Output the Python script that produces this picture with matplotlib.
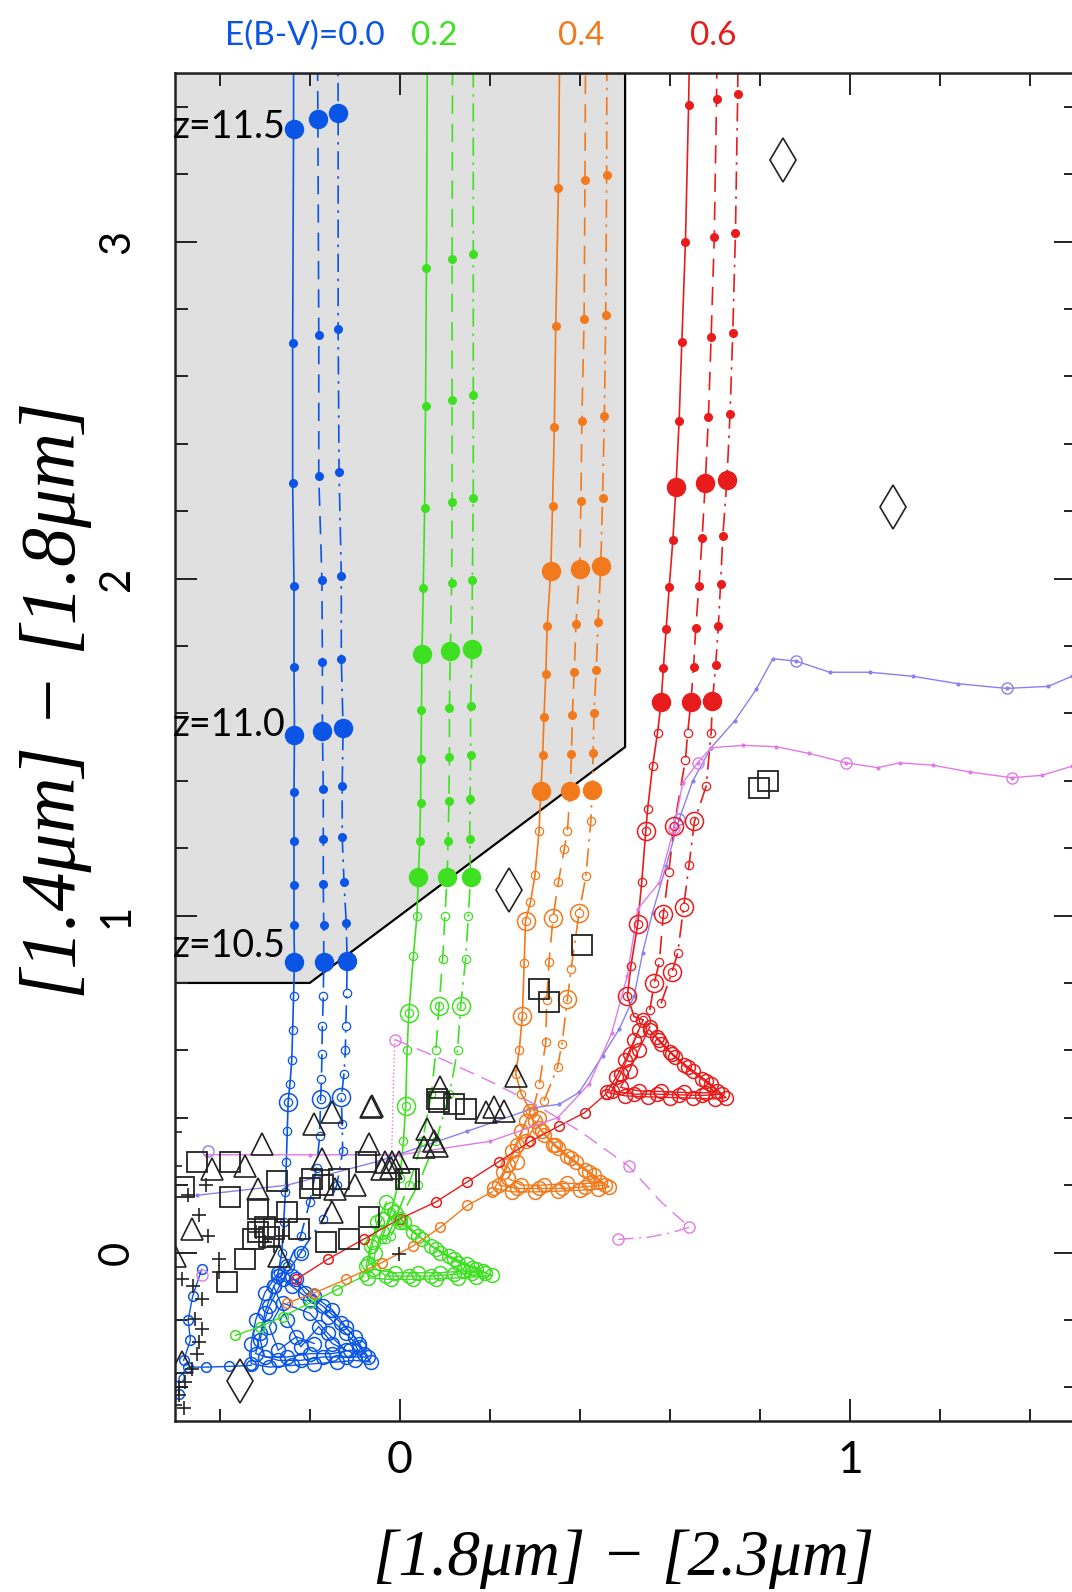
import numpy as np
import matplotlib.pyplot as plt
from matplotlib.ticker import MultipleLocator
from matplotlib.patches import Polygon

# colours of the four E(B-V) sets
C_BLUE = '#0a55e6'
C_GREEN = '#3fe022'
C_ORANGE = '#f27a1c'
C_RED = '#e81c1c'
C_PURPLE = '#8a80f0'
C_MAGENTA = '#e27ae6'

# ---- model tracks, part with filled dots (z=10.5 upwards, every 0.1 in z) ----
Z_MARK = [0, 5, 10]  # z = 10.5, 11.0, 11.5

BLUE_SOLID_X = [-0.234, -0.235, -0.235, -0.235, -0.235, -0.234, -0.235, -0.235, -0.238, -0.238, -0.236, -0.236]
BLUE_SOLID_Y = [0.862, 0.971, 1.090, 1.221, 1.368, 1.537, 1.738, 1.979, 2.283, 2.700, 3.335, 3.9]
BLUE_DASH_X = [-0.169, -0.169, -0.170, -0.170, -0.170, -0.172, -0.172, -0.173, -0.180, -0.180, -0.182, -0.184]
BLUE_DASH_Y = [0.862, 0.971, 1.093, 1.226, 1.376, 1.549, 1.753, 1.997, 2.303, 2.723, 3.363, 3.9]
BLUE_DDOT_X = [-0.117, -0.119, -0.124, -0.128, -0.128, -0.126, -0.130, -0.130, -0.135, -0.137, -0.137, -0.138]
BLUE_DDOT_Y = [0.866, 0.977, 1.100, 1.234, 1.384, 1.556, 1.762, 2.009, 2.317, 2.740, 3.383, 3.9]

GREEN_SOLID_X = [0.041, 0.044, 0.046, 0.047, 0.048, 0.049, 0.052, 0.055, 0.057, 0.059, 0.061]
GREEN_SOLID_Y = [1.113, 1.221, 1.335, 1.466, 1.609, 1.777, 1.972, 2.209, 2.512, 2.923, 3.58]
GREEN_DASH_X = [0.105, 0.107, 0.109, 0.110, 0.110, 0.112, 0.115, 0.116, 0.116, 0.116, 0.117]
GREEN_DASH_Y = [1.113, 1.221, 1.340, 1.471, 1.616, 1.784, 1.987, 2.226, 2.530, 2.947, 3.60]
GREEN_DDOT_X = [0.157, 0.155, 0.156, 0.157, 0.157, 0.160, 0.161, 0.163, 0.163, 0.163, 0.163]
GREEN_DDOT_Y = [1.113, 1.226, 1.345, 1.475, 1.621, 1.791, 1.997, 2.239, 2.545, 2.962, 3.62]

ORANGE_SOLID_X = [0.313, 0.317, 0.320, 0.324, 0.327, 0.335, 0.339, 0.343, 0.346, 0.352, 0.356]
ORANGE_SOLID_Y = [1.371, 1.475, 1.590, 1.717, 1.858, 2.021, 2.216, 2.451, 2.750, 3.159, 3.75]
ORANGE_DASH_X = [0.378, 0.381, 0.383, 0.387, 0.391, 0.399, 0.402, 0.404, 0.409, 0.411, 0.413]
ORANGE_DASH_Y = [1.371, 1.478, 1.595, 1.722, 1.865, 2.029, 2.229, 2.468, 2.769, 3.182, 3.78]
ORANGE_DDOT_X = [0.427, 0.429, 0.431, 0.436, 0.440, 0.446, 0.450, 0.454, 0.457, 0.459, 0.460]
ORANGE_DDOT_Y = [1.374, 1.481, 1.600, 1.730, 1.870, 2.036, 2.239, 2.481, 2.782, 3.197, 3.80]

RED_SOLID_X = [0.580, 0.585, 0.591, 0.598, 0.606, 0.613, 0.620, 0.626, 0.634, 0.641, 0.648]
RED_SOLID_Y = [1.633, 1.735, 1.849, 1.975, 2.113, 2.273, 2.469, 2.703, 2.999, 3.405, 4.00]
RED_DASH_X = [0.646, 0.652, 0.657, 0.664, 0.671, 0.678, 0.685, 0.691, 0.698, 0.703, 0.708]
RED_DASH_Y = [1.633, 1.737, 1.854, 1.979, 2.120, 2.283, 2.479, 2.716, 3.014, 3.424, 4.02]
RED_DDOT_X = [0.694, 0.701, 0.707, 0.712, 0.717, 0.726, 0.733, 0.739, 0.745, 0.750, 0.754]
RED_DDOT_Y = [1.636, 1.742, 1.858, 1.985, 2.127, 2.291, 2.489, 2.728, 3.026, 3.439, 4.04]

# ---- same tracks below z=10.5 (open circles) ----
BLUE_SOLID_LX = [-0.236, -0.238, -0.240, -0.244, -0.248, -0.250, -0.252, -0.254, -0.258, -0.262, -0.270]
BLUE_SOLID_LY = [0.760, 0.660, 0.570, 0.500, 0.446, 0.360, 0.270, 0.180, 0.090, 0.000, -0.060]
BLUE_DASH_LX = [-0.170, -0.172, -0.173, -0.174, -0.176, -0.178, -0.185, -0.200, -0.220, -0.250]
BLUE_DASH_LY = [0.760, 0.673, 0.590, 0.515, 0.456, 0.347, 0.250, 0.150, 0.050, -0.040]
BLUE_DDOT_LX = [-0.118, -0.120, -0.121, -0.124, -0.130, -0.128, -0.127, -0.140, -0.170, -0.220]
BLUE_DDOT_LY = [0.770, 0.673, 0.600, 0.530, 0.461, 0.380, 0.300, 0.200, 0.100, 0.000]

GREEN_SOLID_LX = [0.038, 0.030, 0.020, 0.016, 0.013, 0.008, 0.000, -0.020, -0.040]
GREEN_SOLID_LY = [1.000, 0.880, 0.712, 0.600, 0.436, 0.330, 0.220, 0.120, 0.040]
GREEN_DASH_LX = [0.100, 0.095, 0.087, 0.080, 0.070, 0.050, 0.020, -0.010, -0.030]
GREEN_DASH_LY = [1.000, 0.870, 0.732, 0.600, 0.470, 0.330, 0.200, 0.100, 0.040]
GREEN_DDOT_LX = [0.152, 0.146, 0.135, 0.128, 0.110, 0.080, 0.040, 0.000, -0.020]
GREEN_DDOT_LY = [1.000, 0.870, 0.732, 0.600, 0.470, 0.330, 0.200, 0.100, 0.050]

ORANGE_SOLID_LX = [0.309, 0.300, 0.290, 0.279, 0.276, 0.272, 0.265, 0.257, 0.270, 0.290]
ORANGE_SOLID_LY = [1.250, 1.120, 1.040, 0.985, 0.860, 0.702, 0.600, 0.530, 0.470, 0.420]
ORANGE_DASH_LX = [0.372, 0.365, 0.352, 0.340, 0.331, 0.326, 0.324, 0.310, 0.295]
ORANGE_DASH_LY = [1.250, 1.197, 1.100, 0.992, 0.861, 0.750, 0.624, 0.500, 0.420]
ORANGE_DDOT_LX = [0.424, 0.413, 0.398, 0.380, 0.372, 0.360, 0.350, 0.320]
ORANGE_DDOT_LY = [1.280, 1.117, 1.009, 0.841, 0.752, 0.620, 0.550, 0.450]

RED_SOLID_LX = [0.572, 0.561, 0.550, 0.546, 0.537, 0.528, 0.513, 0.505, 0.520, 0.540]
RED_SOLID_LY = [1.542, 1.443, 1.315, 1.251, 1.100, 0.974, 0.851, 0.762, 0.700, 0.690]
RED_DASH_LX = [0.639, 0.634, 0.609, 0.597, 0.585, 0.576, 0.565, 0.555]
RED_DASH_LY = [1.542, 1.463, 1.266, 1.130, 1.004, 0.861, 0.801, 0.720]
RED_DDOT_LX = [0.691, 0.680, 0.654, 0.642, 0.630, 0.617, 0.604, 0.580]
RED_DDOT_LY = [1.542, 1.384, 1.280, 1.150, 1.026, 0.890, 0.831, 0.740]

# larger open rings on the lower tracks
BLUE_RING_X = [-0.248, -0.176, -0.130]
BLUE_RING_Y = [0.446, 0.456, 0.461]
GREEN_RING_X = [0.020, 0.087, 0.135, 0.013]
GREEN_RING_Y = [0.712, 0.732, 0.732, 0.436]
ORANGE_RING_X = [0.279, 0.272, 0.340, 0.398, 0.372]
ORANGE_RING_Y = [0.985, 0.702, 0.992, 1.009, 0.752]
RED_RING_X = [0.546, 0.528, 0.505, 0.609, 0.585, 0.565, 0.654, 0.630, 0.604]
RED_RING_Y = [1.251, 0.974, 0.762, 1.266, 1.004, 0.801, 1.280, 1.026, 0.831]

# ---- low-z loops (the triangular clumps) ----
BLUE_LOOP1_X = [-0.27, -0.30, -0.32, -0.33, -0.33, -0.29, -0.24, -0.19, -0.14, -0.10, -0.065, -0.09, -0.12, -0.16, -0.20, -0.24, -0.27]
BLUE_LOOP1_Y = [-0.06, -0.12, -0.20, -0.27, -0.33, -0.34, -0.335, -0.33, -0.325, -0.32, -0.325, -0.28, -0.24, -0.19, -0.14, -0.10, -0.07]
BLUE_LOOP2_X = [-0.25, -0.28, -0.30, -0.31, -0.30, -0.25, -0.20, -0.15, -0.11, -0.08, -0.10, -0.13, -0.17, -0.21, -0.24]
BLUE_LOOP2_Y = [-0.04, -0.10, -0.18, -0.26, -0.31, -0.31, -0.30, -0.30, -0.29, -0.30, -0.25, -0.21, -0.16, -0.12, -0.07]
BLUE_LOOP3_X = [-0.22, -0.26, -0.29, -0.31, -0.32, -0.27, -0.22, -0.17, -0.12, -0.07, -0.09, -0.12, -0.15, -0.19, -0.23]
BLUE_LOOP3_Y = [0.00, -0.08, -0.16, -0.24, -0.30, -0.32, -0.32, -0.31, -0.31, -0.31, -0.27, -0.22, -0.17, -0.13, -0.08]
BLUE_LOOP4_X = [-0.28, -0.25, -0.22, -0.18, -0.15, -0.12, -0.16, -0.20, -0.26, -0.29, -0.27, -0.23, -0.19]
BLUE_LOOP4_Y = [-0.10, -0.20, -0.28, -0.22, -0.27, -0.29, -0.24, -0.18, -0.15, -0.22, -0.29, -0.25, -0.27]

GREEN_LOOP1_X = [-0.03, -0.05, -0.065, -0.075, -0.07, -0.02, 0.03, 0.08, 0.13, 0.17, 0.205, 0.17, 0.13, 0.09, 0.05, 0.01, -0.02]
GREEN_LOOP1_Y = [0.15, 0.09, 0.02, -0.04, -0.075, -0.08, -0.08, -0.078, -0.075, -0.072, -0.068, -0.05, -0.03, 0.00, 0.04, 0.09, 0.13]
GREEN_LOOP2_X = [-0.01, -0.04, -0.055, -0.06, -0.01, 0.04, 0.09, 0.14, 0.185, 0.15, 0.11, 0.07, 0.03, 0.00]
GREEN_LOOP2_Y = [0.12, 0.06, 0.00, -0.05, -0.06, -0.06, -0.06, -0.055, -0.055, -0.035, -0.01, 0.02, 0.06, 0.10]
GREEN_LOOP3_X = [-0.04, -0.06, -0.07, -0.03, 0.02, 0.07, 0.12, 0.16, 0.19, 0.16, 0.12, 0.08, 0.04, 0.00]
GREEN_LOOP3_Y = [0.10, 0.03, -0.03, -0.07, -0.07, -0.07, -0.065, -0.06, -0.06, -0.045, -0.02, 0.01, 0.05, 0.09]

ORANGE_LOOP1_X = [0.29, 0.27, 0.25, 0.23, 0.21, 0.25, 0.30, 0.35, 0.40, 0.44, 0.465, 0.43, 0.39, 0.35, 0.32, 0.30]
ORANGE_LOOP1_Y = [0.42, 0.36, 0.30, 0.24, 0.19, 0.18, 0.18, 0.182, 0.185, 0.188, 0.195, 0.23, 0.27, 0.31, 0.35, 0.39]
ORANGE_LOOP2_X = [0.31, 0.28, 0.26, 0.24, 0.27, 0.32, 0.37, 0.42, 0.445, 0.41, 0.37, 0.34, 0.31]
ORANGE_LOOP2_Y = [0.40, 0.33, 0.27, 0.22, 0.20, 0.20, 0.205, 0.205, 0.21, 0.245, 0.285, 0.32, 0.37]
ORANGE_LOOP3_X = [0.28, 0.26, 0.24, 0.22, 0.26, 0.31, 0.36, 0.41, 0.455, 0.42, 0.38, 0.345, 0.315]
ORANGE_LOOP3_Y = [0.39, 0.32, 0.26, 0.20, 0.19, 0.19, 0.19, 0.195, 0.20, 0.24, 0.28, 0.32, 0.36]

RED_LOOP1_X = [0.54, 0.52, 0.50, 0.48, 0.46, 0.50, 0.55, 0.60, 0.65, 0.70, 0.724, 0.69, 0.65, 0.61, 0.58, 0.555]
RED_LOOP1_Y = [0.69, 0.63, 0.57, 0.52, 0.475, 0.465, 0.462, 0.46, 0.458, 0.456, 0.46, 0.50, 0.54, 0.58, 0.62, 0.66]
RED_LOOP2_X = [0.555, 0.53, 0.51, 0.49, 0.53, 0.58, 0.63, 0.68, 0.705, 0.67, 0.63, 0.60, 0.57]
RED_LOOP2_Y = [0.67, 0.60, 0.54, 0.49, 0.48, 0.478, 0.475, 0.474, 0.48, 0.515, 0.555, 0.595, 0.64]
RED_LOOP3_X = [0.53, 0.51, 0.49, 0.47, 0.52, 0.57, 0.62, 0.67, 0.715, 0.68, 0.64, 0.605, 0.575]
RED_LOOP3_Y = [0.66, 0.59, 0.53, 0.48, 0.47, 0.47, 0.468, 0.466, 0.47, 0.51, 0.55, 0.59, 0.63]

# lowest-z tails
BLUE_TAIL_X = [-0.33, -0.38, -0.43, -0.47, -0.49, -0.49]
BLUE_TAIL_Y = [-0.335, -0.338, -0.34, -0.34, -0.37, -0.42]
BLUE_EDGE_X = [-0.44, -0.46, -0.47, -0.465, -0.48]
BLUE_EDGE_Y = [-0.05, -0.13, -0.20, -0.26, -0.32]
GREEN_TAIL_X = [-0.08, -0.14, -0.20, -0.26, -0.31, -0.365]
GREEN_TAIL_Y = [-0.07, -0.11, -0.15, -0.19, -0.22, -0.246]
ORANGE_TAIL_X = [0.205, 0.15, 0.09, 0.03, -0.04, -0.12, -0.19, -0.25]
ORANGE_TAIL_Y = [0.18, 0.14, 0.075, 0.02, -0.03, -0.08, -0.12, -0.15]
RED_TAIL_X = [0.457, 0.41, 0.354, 0.29, 0.22, 0.15, 0.08, 0.00, -0.08, -0.16, -0.23]
RED_TAIL_Y = [0.47, 0.415, 0.376, 0.33, 0.27, 0.21, 0.15, 0.10, 0.04, -0.02, -0.08]

# ---- other model curves ----
PURPLE_X = [-0.45, -0.25, -0.05, 0.15, 0.30, 0.354, 0.398, 0.450, 0.487, 0.520, 0.539, 0.561, 0.591, 0.620,
            0.650, 0.691, 0.743, 0.791, 0.828, 0.880, 0.954, 1.043, 1.139, 1.239, 1.347, 1.439, 1.492, 1.56]
PURPLE_Y = [0.17, 0.20, 0.27, 0.36, 0.43, 0.44, 0.475, 0.584, 0.663, 0.760, 0.890, 1.009, 1.147, 1.285,
            1.399, 1.498, 1.577, 1.671, 1.762, 1.755, 1.722, 1.722, 1.710, 1.688, 1.674, 1.680, 1.710, 1.76]
PURPLE_RING_X = [-0.425, 0.880, 1.347, 0.620]
PURPLE_RING_Y = [0.302, 1.755, 1.674, 1.285]

MAGENTA_X = [-0.43, -0.20, 0.00, 0.20, 0.35, 0.42, 0.47, 0.505, 0.528, 0.576, 0.609, 0.628, 0.661, 0.691,
             0.761, 0.835, 0.909, 0.991, 1.061, 1.110, 1.184, 1.265, 1.358, 1.425, 1.492, 1.56]
MAGENTA_Y = [0.29, 0.29, 0.29, 0.33, 0.40, 0.50, 0.65, 0.821, 1.019, 1.098, 1.261, 1.394, 1.453, 1.498,
             1.505, 1.501, 1.481, 1.453, 1.439, 1.453, 1.446, 1.426, 1.409, 1.416, 1.443, 1.47]
MAGENTA_RING_X = [0.609, 0.661, 0.991, 1.358, -0.44]
MAGENTA_RING_Y = [1.261, 1.453, 1.453, 1.409, -0.068]

MAG_DASH_X = [-0.011, 0.100, 0.205, 0.300, 0.400, 0.508, 0.580, 0.643]
MAG_DASH_Y = [0.632, 0.570, 0.505, 0.440, 0.360, 0.256, 0.150, 0.075]
MAG_DDOT_X = [0.485, 0.550, 0.600, 0.643]
MAG_DDOT_Y = [0.039, 0.045, 0.058, 0.075]
MAG_DOT_X = [-0.011, -0.014, -0.016, -0.018, -0.020]
MAG_DOT_Y = [0.632, 0.520, 0.400, 0.300, 0.220]
MAG_DASH_RING_X = [-0.011, 0.508, 0.643, 0.485]
MAG_DASH_RING_Y = [0.632, 0.256, 0.075, 0.039]

# ---- observed objects ----
SQ_X = [0.797, 0.817, 0.405, 0.309, 0.330, 0.083, 0.088, 0.146, 0.020, -0.069,
        -0.451, -0.377, -0.480, -0.377, -0.314, -0.273, -0.195, -0.136, -0.314, -0.300,
        -0.290, -0.325, -0.280, -0.343, -0.384, -0.225, -0.165, -0.113, -0.076, 0.013,
        -0.170, -0.200, 0.120, -0.250]
SQ_Y = [1.378, 1.399, 0.912, 0.782, 0.743, 0.457, 0.446, 0.426, 0.218, 0.105,
        0.268, 0.268, 0.194, 0.164, 0.130, 0.213, 0.218, 0.218, 0.060, 0.075,
        0.045, 0.040, 0.070, -0.019, -0.088, 0.070, 0.031, 0.041, 0.268, 0.218,
        0.200, 0.190, 0.440, 0.120]
TRI_X = [-0.306, -0.191, -0.151, -0.065, -0.069, -0.173, -0.417, -0.343, -0.314, -0.462,
         -0.500, -0.269, -0.143, -0.151, -0.484, -0.099, -0.017, -0.039, 0.257, -0.062,
         0.090, 0.061, 0.083, 0.053, -0.002, -0.032, 0.191, 0.231, 0.209, 0.075, -0.020]
TRI_Y = [0.322, 0.381, 0.416, 0.431, 0.322, 0.278, 0.248, 0.258, 0.189, 0.070,
         -0.009, -0.009, 0.189, 0.120, -0.325, 0.199, 0.268, 0.248, 0.525, 0.436,
         0.490, 0.367, 0.317, 0.312, 0.268, 0.268, 0.416, 0.421, 0.431, 0.330, 0.250]
PLUS_X = [-0.500, -0.500, -0.447, -0.425, -0.402, -0.484, -0.402, -0.440, -0.454, -0.440,
          -0.447, -0.462, -0.477, -0.491, -0.499, -0.002, -0.470, -0.430, -0.460, -0.450,
          -0.480, -0.490, -0.300, -0.320, -0.260, -0.280]
PLUS_Y = [0.358, 0.258, 0.110, 0.050, -0.019, -0.078, -0.058, -0.137, -0.196, -0.226,
          -0.266, -0.345, -0.384, -0.424, -0.453, -0.004, 0.170, 0.200, -0.100, -0.300,
          -0.460, -0.400, 0.030, 0.060, 0.050, 0.020]
DIA_X = [0.851, 1.095, 0.242, -0.354]
DIA_Y = [3.243, 2.211, 1.077, -0.382]

# selection region (grey)
REGION_X = [-0.5, 0.5, 0.5, -0.2, -0.5]
REGION_Y = [3.5, 3.5, 1.5, 0.8, 0.8]

DASH = (0, (11, 6))
DDOT = (0, (11, 4, 1.5, 4))

fig = plt.figure(figsize=(10.72, 15.92), dpi=100)
ax = fig.add_axes([0.1629, 0.1074, 0.8404, 0.8467])
ax.set_xlim(-0.5, 1.5)
ax.set_ylim(-0.5, 3.5)

ax.add_patch(Polygon(np.column_stack([REGION_X, REGION_Y]), closed=True,
                     facecolor='#e0e0e0', edgecolor='black', lw=1.6, zorder=0))


def track(ux, uy, lx, ly, color, ls):
    # line through lower part and upper part
    x = list(lx[::-1]) + list(ux)
    y = list(ly[::-1]) + list(uy)
    ax.plot(x, y, color=color, ls=ls, lw=1.2, zorder=2)
    ax.plot(lx, ly, 'o', mfc='none', mec=color, ms=6, mew=0.9, zorder=3)
    ax.plot(ux[:11], uy[:11], 'o', color=color, ms=5.5, zorder=3)
    ax.plot([ux[i] for i in Z_MARK], [uy[i] for i in Z_MARK], 'o', color=color, ms=13, zorder=4)


def loop(x, y, color, ms=10):
    ax.plot(x, y, '-', color=color, lw=1.0, marker='o', mfc='none', mec=color, ms=ms, mew=1.1, zorder=2)


track(BLUE_SOLID_X, BLUE_SOLID_Y, BLUE_SOLID_LX, BLUE_SOLID_LY, C_BLUE, '-')
track(BLUE_DASH_X, BLUE_DASH_Y, BLUE_DASH_LX, BLUE_DASH_LY, C_BLUE, DASH)
track(BLUE_DDOT_X, BLUE_DDOT_Y, BLUE_DDOT_LX, BLUE_DDOT_LY, C_BLUE, DDOT)
track(GREEN_SOLID_X, GREEN_SOLID_Y, GREEN_SOLID_LX, GREEN_SOLID_LY, C_GREEN, '-')
track(GREEN_DASH_X, GREEN_DASH_Y, GREEN_DASH_LX, GREEN_DASH_LY, C_GREEN, DASH)
track(GREEN_DDOT_X, GREEN_DDOT_Y, GREEN_DDOT_LX, GREEN_DDOT_LY, C_GREEN, DDOT)
track(ORANGE_SOLID_X, ORANGE_SOLID_Y, ORANGE_SOLID_LX, ORANGE_SOLID_LY, C_ORANGE, '-')
track(ORANGE_DASH_X, ORANGE_DASH_Y, ORANGE_DASH_LX, ORANGE_DASH_LY, C_ORANGE, DASH)
track(ORANGE_DDOT_X, ORANGE_DDOT_Y, ORANGE_DDOT_LX, ORANGE_DDOT_LY, C_ORANGE, DDOT)
track(RED_SOLID_X, RED_SOLID_Y, RED_SOLID_LX, RED_SOLID_LY, C_RED, '-')
track(RED_DASH_X, RED_DASH_Y, RED_DASH_LX, RED_DASH_LY, C_RED, DASH)
track(RED_DDOT_X, RED_DDOT_Y, RED_DDOT_LX, RED_DDOT_LY, C_RED, DDOT)

for rx, ry, c in [(BLUE_RING_X, BLUE_RING_Y, C_BLUE), (GREEN_RING_X, GREEN_RING_Y, C_GREEN),
                  (ORANGE_RING_X, ORANGE_RING_Y, C_ORANGE), (RED_RING_X, RED_RING_Y, C_RED)]:
    ax.plot(rx, ry, 'o', mfc='none', mec=c, ms=13, mew=1.1, zorder=3)

# clumps at low redshift
for lx, ly in [(BLUE_LOOP1_X, BLUE_LOOP1_Y), (BLUE_LOOP2_X, BLUE_LOOP2_Y),
               (BLUE_LOOP3_X, BLUE_LOOP3_Y), (BLUE_LOOP4_X, BLUE_LOOP4_Y)]:
    loop(lx, ly, C_BLUE)
for lx, ly in [(GREEN_LOOP1_X, GREEN_LOOP1_Y), (GREEN_LOOP2_X, GREEN_LOOP2_Y), (GREEN_LOOP3_X, GREEN_LOOP3_Y)]:
    loop(lx, ly, C_GREEN)
for lx, ly in [(ORANGE_LOOP1_X, ORANGE_LOOP1_Y), (ORANGE_LOOP2_X, ORANGE_LOOP2_Y), (ORANGE_LOOP3_X, ORANGE_LOOP3_Y)]:
    loop(lx, ly, C_ORANGE)
for lx, ly in [(RED_LOOP1_X, RED_LOOP1_Y), (RED_LOOP2_X, RED_LOOP2_Y), (RED_LOOP3_X, RED_LOOP3_Y)]:
    loop(lx, ly, C_RED)
loop(BLUE_TAIL_X, BLUE_TAIL_Y, C_BLUE, 7)
loop(BLUE_EDGE_X, BLUE_EDGE_Y, C_BLUE, 7)
loop(GREEN_TAIL_X, GREEN_TAIL_Y, C_GREEN, 7)
loop(ORANGE_TAIL_X, ORANGE_TAIL_Y, C_ORANGE, 7)
loop(RED_TAIL_X, RED_TAIL_Y, C_RED, 7)

# purple / magenta models
ax.plot(PURPLE_X, PURPLE_Y, '-', color=C_PURPLE, lw=1.0, marker='.', ms=4, zorder=2)
ax.plot(PURPLE_RING_X, PURPLE_RING_Y, 'o', mfc='none', mec=C_PURPLE, ms=8, mew=1.0, zorder=2)
ax.plot(MAGENTA_X, MAGENTA_Y, '-', color=C_MAGENTA, lw=1.0, marker='.', ms=4, zorder=2)
ax.plot(MAGENTA_RING_X, MAGENTA_RING_Y, 'o', mfc='none', mec=C_MAGENTA, ms=8, mew=1.0, zorder=2)
ax.plot(MAG_DASH_X, MAG_DASH_Y, color=C_MAGENTA, ls=DASH, lw=1.0, zorder=2)
ax.plot(MAG_DDOT_X, MAG_DDOT_Y, color=C_MAGENTA, ls=DDOT, lw=1.0, zorder=2)
ax.plot(MAG_DOT_X, MAG_DOT_Y, color=C_MAGENTA, ls=':', lw=1.0, zorder=2)
ax.plot(MAG_DASH_RING_X, MAG_DASH_RING_Y, 'o', mfc='none', mec=C_MAGENTA, ms=8, mew=1.0, zorder=2)

# observed galaxies
ax.plot(SQ_X, SQ_Y, 's', mfc='none', mec='#222222', ms=15, mew=1.3, zorder=5)
ax.plot(TRI_X, TRI_Y, '^', mfc='none', mec='#222222', ms=16, mew=1.2, zorder=5)
ax.plot(PLUS_X, PLUS_Y, '+', color='#222222', ms=10, mew=1.2, zorder=5)
ax.plot(DIA_X, DIA_Y, 'd', mfc='none', mec='#222222', ms=22, mew=1.2, zorder=5)

# labels inside the plot
for zl, zy in [('z=11.5', 3.34), ('z=11.0', 1.565), ('z=10.5', 0.91)]:
    ax.text(-0.503, zy, zl, fontsize=27, family='Lato', ha='left', va='center', zorder=6)

fig.text(225 / 1072, 1 - 36 / 1592, 'E(B-V)=0.0', color=C_BLUE, fontsize=24, family='Lato', va='center')
fig.text(411 / 1072, 1 - 36 / 1592, '0.2', color=C_GREEN, fontsize=24, family='Lato', va='center')
fig.text(558 / 1072, 1 - 36 / 1592, '0.4', color=C_ORANGE, fontsize=24, family='Lato', va='center')
fig.text(690 / 1072, 1 - 36 / 1592, '0.6', color=C_RED, fontsize=24, family='Lato', va='center')

# axis titles (italic serif)
fig.text(624 / 1072, 3 / 1592, '[1.8\u03bcm] \u2212 [2.3\u03bcm]', fontsize=47,
         family='Liberation Serif', style='italic', ha='center', va='bottom')
fig.text(56 / 1072, 1 - 700 / 1592, '[1.4\u03bcm] \u2212 [1.8\u03bcm]', fontsize=56,
         family='Liberation Serif', style='italic', ha='center', va='center', rotation=90)

# axes
ax.xaxis.set_major_locator(MultipleLocator(1))
ax.xaxis.set_minor_locator(MultipleLocator(0.2))
ax.yaxis.set_major_locator(MultipleLocator(1))
ax.yaxis.set_minor_locator(MultipleLocator(0.2))
ax.tick_params(which='both', direction='in', top=True, right=True, width=1.4, color='#222222')
ax.tick_params(which='major', length=16)
ax.tick_params(which='minor', length=9)
ax.tick_params(axis='x', labelsize=32, pad=14)
ax.tick_params(axis='y', labelsize=30, pad=28, labelrotation=90)
for lab in ax.get_xticklabels() + ax.get_yticklabels():
    lab.set_family('Lato')
for lab in ax.get_yticklabels():
    lab.set_va('center')
for s in ax.spines.values():
    s.set_linewidth(1.8)
    s.set_color('#222222')

fig.savefig('out.png', dpi=100)
